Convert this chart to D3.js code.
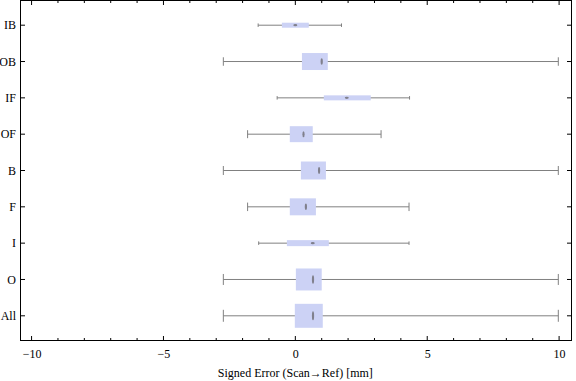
<!DOCTYPE html>
<html>
<head>
<meta charset="utf-8">
<script src="https://cdn.jsdelivr.net/npm/d3@7"></script>
<style>
  body { margin: 0; background: #fff; }
  text { font-family: "Liberation Serif", "DejaVu Serif", serif; }
</style>
</head>
<body>
<div id="chart"></div>
<script>
// groups, bottom to top
const categories = ["All", "O", "I", "F", "B", "OF", "IF", "OB", "IB"];
const whiskerLow = [-2.73, -2.73, -1.39, -1.81, -2.73, -1.81, -0.69, -2.73, -1.41];
const q1 = [-0.02, 0.02, -0.32, -0.21, 0.21, -0.21, 1.08, 0.25, -0.51];
const median = [0.67, 0.67, 0.66, 0.40, 0.90, 0.31, 1.95, 1.00, 0.0];
const q3 = [1.04, 1.00, 1.27, 0.78, 1.16, 0.66, 2.86, 1.23, 0.51];
const whiskerHigh = [9.97, 9.97, 4.31, 4.31, 9.97, 3.25, 4.33, 9.97, 1.75];
const counts = [576, 484, 36, 289, 324, 256, 25, 289, 25];
const xTicks = [-10, -5, 0, 5, 10];

const width = 576, height = 381;
const plot = { left: 20.5, right: 571.5, top: 0.5, bottom: 340.5 };

const svg = d3.select("#chart").append("svg")
  .attr("width", width)
  .attr("height", height);

const x = d3.scaleLinear().domain([-10.42, 10.47]).range([plot.left, plot.right]);
const y = d3.scaleLinear().domain([0.32, 9.68]).range([plot.bottom, plot.top]);
const band = y(0) - y(1);
const boxH = d3.scaleSqrt().domain([0, d3.max(counts)]).range([0, band * 0.66]);

const data = categories.map((c, i) => ({
  name: c, i: i + 1,
  lo: whiskerLow[i], q1: q1[i], med: median[i], q3: q3[i], hi: whiskerHigh[i],
  h: boxH(counts[i])
}));

const defs = svg.append("defs");
defs.append("filter").attr("id", "soft")
  .attr("x", "-100%").attr("y", "-100%").attr("width", "300%").attr("height", "300%")
  .append("feGaussianBlur").attr("stdDeviation", 0.7);

// frame
svg.append("rect")
  .attr("x", plot.left).attr("y", plot.top)
  .attr("width", plot.right - plot.left)
  .attr("height", plot.bottom - plot.top)
  .attr("fill", "none").attr("stroke", "#000").attr("stroke-width", 1);

// ticks: bottom/top major + minor
const minor = d3.range(-10, 11, 1).filter(v => v % 5 !== 0);
const bottomAxis = d3.axisBottom(x).tickValues(xTicks).tickSize(0)
  .tickFormat(d => d < 0 ? "\u2212" + Math.abs(d) : d);
svg.append("g")
  .attr("transform", "translate(0," + plot.bottom + ")")
  .call(bottomAxis)
  .call(g => g.select(".domain").remove())
  .selectAll("text")
  .attr("dy", "0")
  .attr("y", 17)
  .attr("font-size", 12)
  .attr("fill", "#000")
  .attr("font-family", "Liberation Serif");

[plot.bottom, plot.top].forEach((yy, k) => {
  const dir = k === 0 ? -1 : 1;
  svg.append("g").selectAll("line.maj")
    .data(xTicks).join("line")
    .attr("x1", d => x(d)).attr("x2", d => x(d))
    .attr("y1", yy).attr("y2", yy + dir * 4.5)
    .attr("stroke", "#000");
  svg.append("g").selectAll("line.min")
    .data(minor).join("line")
    .attr("x1", d => x(d)).attr("x2", d => x(d))
    .attr("y1", yy).attr("y2", yy + dir * 2.5)
    .attr("stroke", "#000");
});

// category ticks on left and right
[plot.left, plot.right].forEach((xx, k) => {
  const dir = k === 0 ? 1 : -1;
  svg.append("g").selectAll("line")
    .data(data).join("line")
    .attr("x1", xx).attr("x2", xx + dir * 4.5)
    .attr("y1", d => y(d.i)).attr("y2", d => y(d.i))
    .attr("stroke", "#000");
});

svg.append("g").selectAll("text")
  .data(data).join("text")
  .attr("x", plot.left - 4.5)
  .attr("y", d => y(d.i))
  .attr("dy", "0.35em")
  .attr("text-anchor", "end")
  .attr("font-size", 12)
  .text(d => d.name);

// axis title
svg.append("text")
  .attr("x", x(0))
  .attr("y", 377)
  .attr("text-anchor", "middle")
  .attr("font-size", 12)
  .text("Signed Error (Scan\u2192Ref) [mm]");

// box whiskers
const grp = svg.append("g").selectAll("g")
  .data(data).join("g")
  .attr("transform", d => "translate(0," + y(d.i) + ")");

grp.append("line")
  .attr("x1", d => x(d.lo)).attr("x2", d => x(d.hi))
  .attr("y1", 0).attr("y2", 0)
  .attr("stroke", "#808080").attr("stroke-width", 1);

grp.each(function(d) {
  const capH = Math.max(3.5, d.h / 2);
  const g = d3.select(this);
  [d.lo, d.hi].forEach(v => {
    g.append("line")
      .attr("x1", x(v)).attr("x2", x(v))
      .attr("y1", -capH / 2).attr("y2", capH / 2)
      .attr("stroke", "#808080").attr("stroke-width", 1);
  });
});

grp.append("rect")
  .attr("x", d => x(d.q1))
  .attr("y", d => -d.h / 2)
  .attr("width", d => x(d.q3) - x(d.q1))
  .attr("height", d => d.h)
  .attr("fill", "#ccd2f5");

grp.append("ellipse")
  .attr("cx", d => x(d.med))
  .attr("cy", 0)
  .attr("rx", d => d.h < 8 ? 2 : 1.1)
  .attr("ry", d => d.h < 8 ? 1.1 : d.h * 0.19)
  .attr("fill", "#80808c")
  .attr("filter", "url(#soft)");
</script>
</body>
</html>
